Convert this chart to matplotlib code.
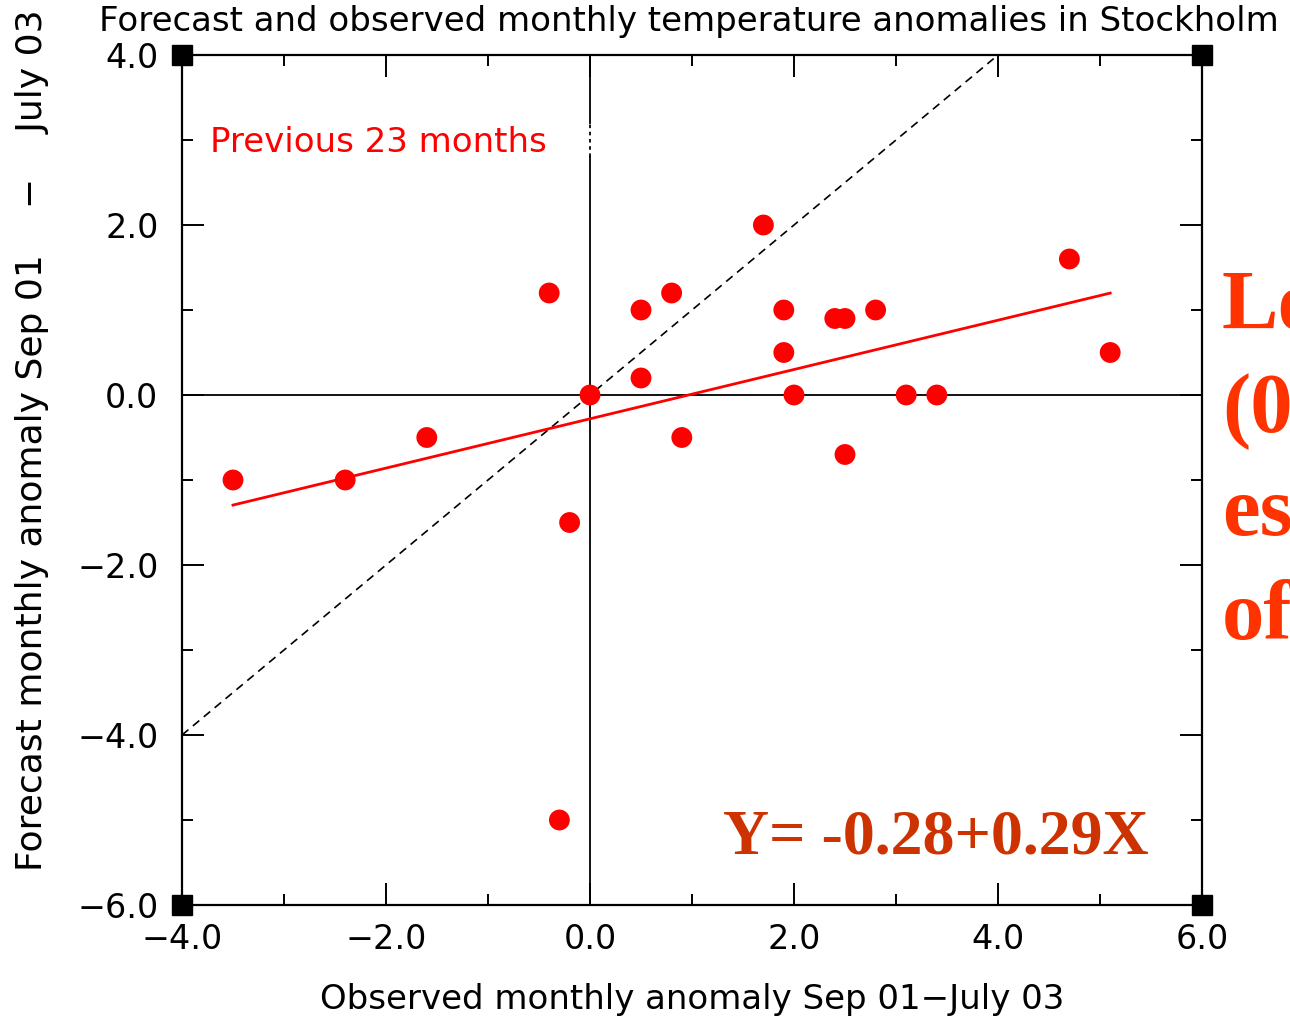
import matplotlib
matplotlib.use("Agg")
import matplotlib.pyplot as plt
import numpy as np

# Observed vs forecast monthly anomalies (Sep 01 - July 03), Stockholm
observed = [-3.5, -2.4, -1.6, -0.4, -0.3, -0.2, 0.0, 0.5, 0.5, 0.8, 0.9,
            1.7, 1.9, 1.9, 2.0, 2.4, 2.5, 2.5, 2.8, 3.1, 3.4, 4.7, 5.1]
forecast = [-1.0, -1.0, -0.5, 1.2, -5.0, -1.5, 0.0, 1.0, 0.2, 1.2, -0.5,
            2.0, 1.0, 0.5, 0.0, 0.9, 0.9, -0.7, 1.0, 0.0, 0.0, 1.6, 0.5]

intercept = -0.28
slope = 0.29

x_ticks = [-4.0, -2.0, 0.0, 2.0, 4.0, 6.0]
y_ticks = [-6.0, -4.0, -2.0, 0.0, 2.0, 4.0]
x_tick_labels = ["\u22124.0", "\u22122.0", "0.0", "2.0", "4.0", "6.0"]
y_tick_labels = ["\u22126.0", "\u22124.0", "\u22122.0", "0.0", "2.0", "4.0"]

side_text = ["Lo", "(0", "es", "of"]

plt.rcParams['font.family'] = ['DejaVu Sans']
FS = 24.5

fig = plt.figure(figsize=(12.9, 10.23), dpi=100)
ax = fig.add_axes([182/1290, 118/1023, 1020/1290, 850/1023])
ax.set_xlim(-4, 6)
ax.set_ylim(-6, 4)

# zero lines (the vertical one dotted where it passes the label box)
ax.axhline(0, color="black", lw=1.3, zorder=1)
ax.plot([0, 0], [-6, 2.8], color="black", lw=1.3, zorder=1)
ax.plot([0, 0], [3.2, 4], color="black", lw=1.3, zorder=1)
ax.plot([0, 0], [2.8, 3.2], color="black", lw=1.3, ls=(0, (2, 2)), zorder=1)

# 1:1 diagonal
ax.plot([-4, 4], [-4, 4], color="black", lw=1.2, ls=(0, (5, 3.5)), zorder=1)

# regression line over data range
xr = np.array([min(observed), max(observed)])
ax.plot(xr, intercept + slope * xr, color="#ff0000", lw=2.0, zorder=2)

ax.scatter(observed, forecast, s=15**2, color="#ff0000", edgecolors="none",
           zorder=3)

# ticks
ax.set_xticks(x_ticks)
ax.set_xticklabels(x_tick_labels)
ax.set_yticks(y_ticks)
ax.set_yticklabels(y_tick_labels)
ax.set_xticks(np.arange(-4, 6.01, 1.0), minor=True)
ax.set_yticks(np.arange(-6, 4.01, 1.0), minor=True)
ax.tick_params(which="both", direction="in", top=True, right=True,
               width=1.4, color="black", labelsize=24)
ax.tick_params(which="major", length=16)
ax.tick_params(which="minor", length=8)
ax.tick_params(axis="x", which="major", pad=13)
ax.tick_params(axis="y", which="major", pad=17)
for sp in ax.spines.values():
    sp.set_linewidth(1.6)

# corner marks
for cx, cy in [(-4, -6), (-4, 4), (6, -6), (6, 4)]:
    ax.plot([cx], [cy], marker="s", ms=14, color="black", clip_on=False,
            zorder=5)

ax.text(-3.73, 2.97, "Previous 23 months", color="#ff0000", fontsize=FS,
        va="center", ha="left")

ax.text(1.3, -5.22, "Y= -0.28+0.29X", color="#cc3300", fontsize=46,
        fontweight="bold", family="Liberation Serif", va="center", ha="left")

fig.text(689/1290, 1 - 22/1023,
         "Forecast and observed monthly temperature anomalies in Stockholm",
         fontsize=FS, ha="center", va="center")
fig.text(692/1290, 1 - 1000/1023, "Observed monthly anomaly Sep 01\u2212July 03",
         fontsize=FS, ha="center", va="center")
fig.text(32/1290, 1 - 440/1023,
         "Forecast monthly anomaly Sep 01    \u2212    July 03",
         fontsize=26, ha="center", va="center", rotation=90)

for i, s in enumerate(side_text):
    fig.text(1222/1290, 1 - (309 + i*103)/1023, s, color="#ff3300",
             fontsize=61, fontweight="bold", family="Liberation Serif",
             va="center", ha="left")

fig.savefig("out.png", dpi=100, facecolor="white")
